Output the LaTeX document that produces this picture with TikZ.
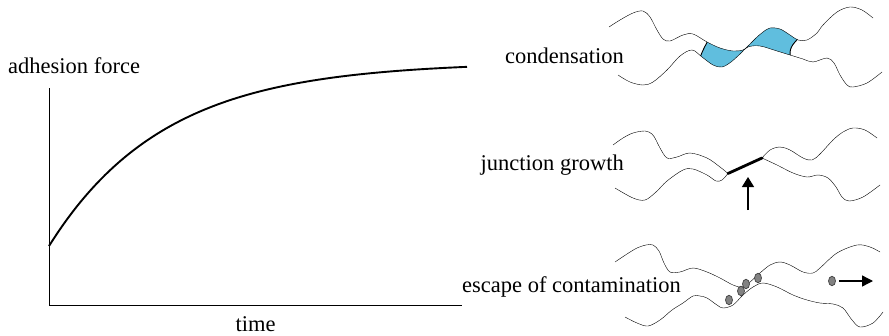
\documentclass[tikz,border=0pt]{standalone}
\usepackage{fontspec}
\setmainfont{Liberation Serif}
\usetikzlibrary{arrows.meta,shapes.geometric}
\definecolor{water}{RGB}{96,190,222}
\definecolor{dirt}{RGB}{130,130,130}
\begin{document}
\begin{tikzpicture}[x=1pt,y=-1pt,
  lbl/.style={inner sep=0pt, font=\fontsize{22.5}{27}\selectfont},
  axis/.style={line width=1pt},
  growth/.style={line width=1.9pt},
  surf/.style={line width=1.3pt, line join=round, smooth, tension=0.55},
  bridge/.style={fill=water},
  meniscus/.style={line width=0.9pt},
  contact/.style={line width=2.8pt, line cap=round},
  push/.style={line width=1.3pt, -{Triangle[length=10pt,width=12pt]}},
  particle/.style={ellipse, draw=black!75, fill=dirt, line width=0.7pt,
                   minimum width=7pt, minimum height=9.5pt, inner sep=0pt}]
\useasboundingbox (0,0) rectangle (889,335);

% ---------- adhesion force versus time ----------
\node[lbl, anchor=base west] (force) at (8,73) {adhesion force};
\node[lbl, anchor=base] (time) at (255.5,331) {time};
\coordinate (ytop) at (49,88);
\coordinate (origin) at (49,305);
\coordinate (xend) at (462,305);
\draw[axis] (ytop) -- (origin) -- (xend);
\draw[growth] plot[domain=49:467, samples=90, variable=\t]
  (\t,{62+184*exp(-(\t-49)/115)});

% ---------- condensation ----------
\node[lbl, anchor=base east] (cond) at (624,63) {condensation};
\begin{scope}
  % region below the upper surface
  \clip plot[surf] coordinates {(609,27) (620,20) (633,13) (643,11) (650,17) (657,30) (663,39) (670,41) (683,35) (693,34) (707,42) (720,48) (733,51) (743,50) (748,46) (756,38) (763,32) (770,28) (780,29) (790,35) (798,40) (807,40) (817,33) (823,25) (837,12) (850,7) (862,10) (873,18)}
    -- (873,110) -- (609,110) -- cycle;
  % region above the lower surface
  \clip plot[surf] coordinates {(618,75) (630,82) (643,85) (653,82) (667,70) (680,56) (692,50) (702,57) (713,65) (722,67) (731,62) (740,54) (748,47) (760,46) (777,51) (790,55) (803,59) (813,62) (827,58) (834,63) (840,75) (847,85) (853,87) (867,83) (882,72)}
    -- (882,0) -- (618,0) -- cycle;
  \fill[bridge] (711,30) -- (710,37) .. controls (705,46) and (701,53) .. (698,64)
    -- (698,90) -- (792,90) -- (791,58) .. controls (788,50) and (792,44) .. (801,36)
    -- (801,20) -- cycle;
  \draw[meniscus] (710,37) .. controls (705,46) and (701,53) .. (698,64);
  \draw[meniscus] (791,58) .. controls (788,50) and (792,44) .. (801,36);
\end{scope}
\draw plot[surf] coordinates {(609,27) (620,20) (633,13) (643,11) (650,17) (657,30) (663,39) (670,41) (683,35) (693,34) (707,42) (720,48) (733,51) (743,50) (748,46) (756,38) (763,32) (770,28) (780,29) (790,35) (798,40) (807,40) (817,33) (823,25) (837,12) (850,7) (862,10) (873,18)};
\draw plot[surf] coordinates {(618,75) (630,82) (643,85) (653,82) (667,70) (680,56) (692,50) (702,57) (713,65) (722,67) (731,62) (740,54) (748,47) (760,46) (777,51) (790,55) (803,59) (813,62) (827,58) (834,63) (840,75) (847,85) (853,87) (867,83) (882,72)};

% ---------- junction growth ----------
\node[lbl, anchor=base east] (junc) at (624,170) {junction growth};
\coordinate (jl) at (728,173.5);
\coordinate (jr) at (762,158);
\draw plot[surf] coordinates {(613,145) (623,138) (633,133) (645,131) (652,134) (656,140) (660,148) (667,158) (677,157) (690,153) (707,158) (720,167) (728,173.5)};
\draw plot[surf] coordinates {(615,188) (633,198) (645,200) (656,192) (667,181) (683,170) (693,169) (707,175) (716,181) (722,180) (728,173.5)};
\draw plot[surf] coordinates {(762,158) (770,150) (780,147) (790,150) (803,158) (812,160) (820,154) (833,140) (843,132) (853,128) (865,130) (877,138)};
\draw plot[surf] coordinates {(762,158) (777,165) (793,173) (807,177) (818,175) (828,178) (836,187) (842,197) (849,201) (863,197) (880,185)};
\draw[contact] (jl) -- (jr);
\coordinate (pushfrom) at (748,210);
\coordinate (pushto) at (748,177);
\draw[push] (pushfrom) -- (pushto);

% ---------- escape of contamination ----------
\node[lbl, anchor=base west] (esc) at (462,292) {escape of contamination};
\draw plot[surf] coordinates {(615,262) (627,254) (637,248) (646,245) (653,245) (659,251) (664,263) (670,272) (680,272) (693,268) (707,272) (720,278) (733,285) (742,287) (750,282) (760,273) (770,265) (780,262) (790,265) (803,272) (813,273) (820,268) (837,253) (857,245) (870,247) (880,252)};
\draw plot[surf] coordinates {(625,317) (637,323) (648,326) (660,320) (672,310) (683,303) (693,296) (700,296) (707,298) (717,305) (723,308) (733,305) (743,295) (753,287) (763,283) (777,287) (793,295) (807,300) (820,303) (833,304) (843,308) (852,320) (860,327) (873,323) (883,312)};
\node[particle] (p1) at (729,300) {};
\node[particle] (p2) at (741,291) {};
\node[particle] (p3) at (746,284) {};
\node[particle] (p4) at (758,278) {};
\node[particle] (p5) at (832,281) {};
\coordinate (away) at (873,281);
\draw[push, -{Triangle[length=11pt,width=11pt]}] (p5.east) ++(3,0) -- (away);
\end{tikzpicture}
\end{document}
